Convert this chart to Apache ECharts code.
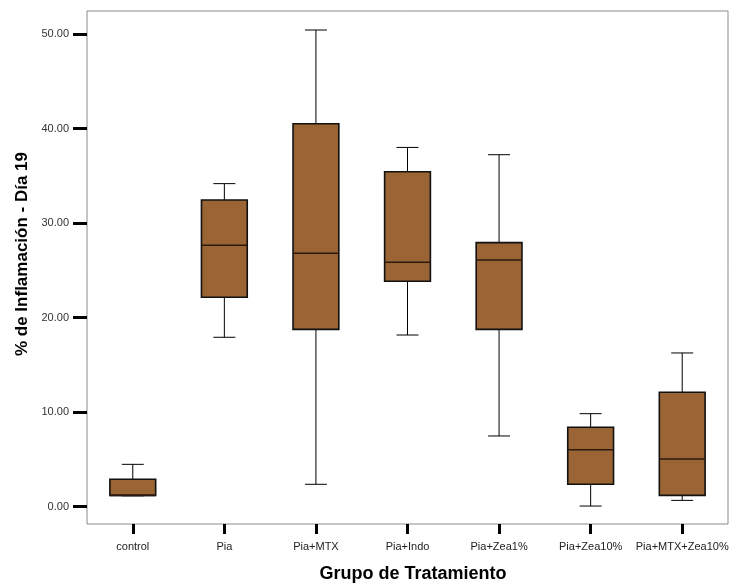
<!DOCTYPE html>
<html>
<head>
<meta charset="utf-8">
<script src="https://cdn.jsdelivr.net/npm/echarts@6/dist/echarts.min.js"></script>
<style>
  html, body { margin: 0; padding: 0; background: #fff; }
  #chart { width: 737px; height: 584px; }
</style>
</head>
<body>
<div id="chart"></div>
<script>
// Treatment groups on the category axis
const groups = ['control', 'Pia', 'Pia+MTX', 'Pia+Indo', 'Pia+Zea1%', 'Pia+Zea10%', 'Pia+MTX+Zea10%'];

// Five-number summaries per group (% inflammation, day 19)
const minimum  = [1.15, 17.92,  2.37, 18.16,  7.48, 0.07,  0.67];
const lowerQ   = [1.20, 22.15, 18.76, 23.84, 18.76, 2.37,  1.20];
const median   = [1.20, 27.65, 26.80, 25.85, 26.10, 6.03,  5.05];
const upperQ   = [2.90, 32.44, 40.51, 35.43, 27.93, 8.40, 12.10];
const maximum  = [4.48, 34.17, 50.42, 38.00, 37.23, 9.84, 16.26];

// Value axis tick positions
const yTicks = [0, 10, 20, 30, 40, 50];

const xTitle = 'Grupo de Tratamiento';
const yTitle = '% de Inflamación - Día 19';

const boxData = groups.map((g, i) => [i, minimum[i], lowerQ[i], median[i], upperQ[i], maximum[i]]);

function renderBox(params, api) {
  const idx = api.value(0);
  const band = api.size([1, 0])[0];
  const half = band * 0.25;
  const capHalf = band * 0.12;
  const pMin = api.coord([idx, api.value(1)]);
  const pQ1 = api.coord([idx, api.value(2)]);
  const pMed = api.coord([idx, api.value(3)]);
  const pQ3 = api.coord([idx, api.value(4)]);
  const pMax = api.coord([idx, api.value(5)]);
  const x = pMed[0];
  const lineStyle = { stroke: '#000', lineWidth: 1 };
  return {
    type: 'group',
    children: [
      { type: 'line', shape: { x1: x, y1: pMax[1], x2: x, y2: pQ3[1] }, style: lineStyle },
      { type: 'line', shape: { x1: x, y1: pQ1[1], x2: x, y2: pMin[1] }, style: lineStyle },
      { type: 'line', shape: { x1: x - capHalf, y1: pMax[1], x2: x + capHalf, y2: pMax[1] }, style: lineStyle },
      { type: 'line', shape: { x1: x - capHalf, y1: pMin[1], x2: x + capHalf, y2: pMin[1] }, style: lineStyle },
      {
        type: 'rect',
        shape: { x: x - half, y: pQ3[1], width: half * 2, height: pQ1[1] - pQ3[1] },
        style: { fill: '#9b6434', stroke: '#111', lineWidth: 1.6 }
      },
      { type: 'line', shape: { x1: x - half, y1: pMed[1], x2: x + half, y2: pMed[1] }, style: { stroke: '#2a1a0c', lineWidth: 1.6 } }
    ]
  };
}

const titleFont = 'Liberation Sans, Arial';

const chart = echarts.init(document.getElementById('chart'), null, { renderer: 'canvas' });
chart.setOption({
  animation: false,
  backgroundColor: '#fff',
  grid: {
    left: 87, top: 11, right: 9, bottom: 60,
    show: true, borderColor: '#8a8a8a', borderWidth: 1, backgroundColor: '#fff'
  },
  xAxis: {
    type: 'category',
    data: groups,
    boundaryGap: true,
    axisLine: { show: false, onZero: false },
    axisTick: { show: true, alignWithLabel: true, length: 10, lineStyle: { color: '#000', width: 3 } },
    axisLabel: { fontFamily: titleFont, fontSize: 11, color: '#222', margin: 17, interval: 0 },
    splitLine: { show: false }
  },
  yAxis: {
    type: 'value',
    min: -1.83,
    max: 52.43,
    axisLine: { show: false },
    axisTick: { show: true, customValues: yTicks, length: 14, lineStyle: { color: '#000', width: 3 } },
    axisLabel: {
      customValues: yTicks,
      fontFamily: titleFont, fontSize: 11, color: '#333', margin: 18,
      formatter: v => v.toFixed(2)
    },
    splitLine: { show: false }
  },
  graphic: [
    {
      type: 'text',
      x: 413, y: 574,
      style: {
        text: xTitle, fontFamily: titleFont, fontWeight: 'bold', fontSize: 18,
        fill: '#000', align: 'center', verticalAlign: 'middle'
      }
    },
    {
      type: 'text',
      x: 22, y: 254,
      rotation: Math.PI / 2,
      style: {
        text: yTitle, fontFamily: titleFont, fontWeight: 'bold', fontSize: 17,
        fill: '#000', align: 'center', verticalAlign: 'middle'
      }
    }
  ],
  series: [{
    type: 'custom',
    renderItem: renderBox,
    encode: { x: 0, y: [1, 2, 3, 4, 5] },
    data: boxData
  }]
});
</script>
</body>
</html>
